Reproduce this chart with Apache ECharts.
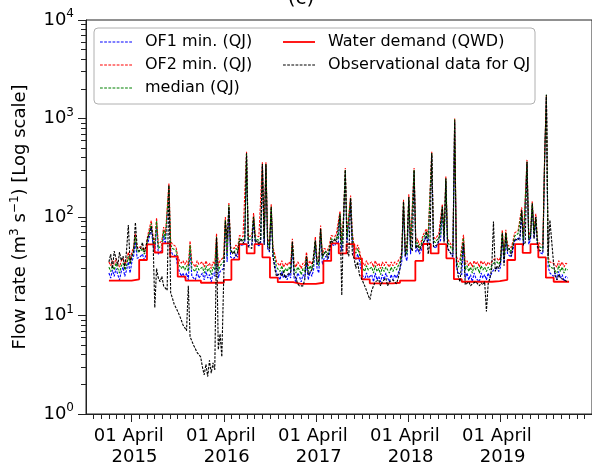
<!DOCTYPE html>
<html><head><meta charset="utf-8">
<script src="https://cdn.jsdelivr.net/npm/echarts@6/dist/echarts.min.js"></script>
<style>html,body{margin:0;padding:0;background:#fff}#c{width:592px;height:471px}</style>
</head><body><div id="c"></div>
<script>
// ---- data (weekly samples starting 2015-01-01) ----
const seriesStart = [2015, 0, 1];
const stepDays = 7;

const of1Min = [
27,24,29,25,30,26,23,28,31,25,29,35,27, 35,40,56,38,37, 40,42,37,41, 53,55,78,52, 44,82,42,44,46, 65,53,55,190, 46,42,44,40,
31,28,25,27,24,27,23,46,25,26,23,28,24,
24,27,23,28,24,26,22,27,25,56,24,28,27, 30,84,35,120,39, 40,38,42,39, 53,55,51,54, 420,51,49,53,92, 53,55,51,54,330,53,330,48, 44,115,39,
33,27,25,23,28,24,26,23,27,24,
50, 24,22,27,25,22,26,24,35,23,28,25,29,52,30,27,68,33, 38,40,36,42, 53,55,51,56, 53,98,45,88,285, 55,53,145,57, 40,37,42,36,
29,25,23,27,24,23,26,22,27,23,25,22,26,23,27,24,22,26,23,26,24,27,
30,35,130,39,36,148,42,44,285, 44,48,42,46, 53,55,64,53,55, 420,51,48,50, 55,58,118,57, 232,48,45,44,39, 930,
31,27,28, 26,55,24,27,23,26,22,27,24,25,22,27,24,26,23,27,24,
27,29,28,30,28, 31,62,34,62, 42,44,39,46, 57,59,61,58,108, 51,49,345,53, 59,130,61,92, 47,44,46,42,375, 1650,
31,27,26,25,27,23,28,24,26,22,25,24
];
const of2Min = [
35,32,36,33,38,34,31,36,38,33,36,44,37, 44,49,68,48,46, 50,52,46,50, 65,67,92,64, 55,98,53,55,57, 79,65,67,220, 57,53,55,50,
40,36,34,36,33,36,32,57,35,35,31,36,33,
33,35,31,36,32,34,30,35,33,68,32,36,35, 39,100,44,140,49, 50,48,52,49, 65,67,63,66, 460,63,61,65,110, 65,67,63,66,360,65,360,60, 55,135,49,
42,35,35,32,36,31,34,32,35,33,
60, 34,31,35,33,30,34,32,44,32,36,33,37,63,38,36,82,42, 48,50,46,52, 65,67,63,68, 65,115,57,104,315, 67,65,165,69, 50,47,52,46,
37,34,32,36,33,33,35,31,36,32,34,30,35,32,35,33,31,35,32,35,33,36,
38,44,150,49,46,170,52,54,315, 55,60,52,56, 65,67,76,65,67, 460,63,60,62, 67,70,135,69, 260,60,56,54,49, 1000,
40,35,37, 36,66,33,36,32,35,31,36,33,35,31,36,33,35,32,35,33,
35,37,36,38,36, 39,74,44,74, 52,54,49,56, 69,71,73,70,125, 63,61,380,65, 71,145,73,108, 58,54,56,52,410, 1700,
39,35,34,34,35,31,36,32,35,31,34,33
];
const medianQJ = [
31,28,32,29,34,30,27,32,34,29,32,40,33, 40,45,63,44,42, 45,48,42,46, 60,62,86,58, 50,91,48,50,52, 73,60,62,208, 52,48,50,46,
36,32,30,32,29,32,28,52,30,31,28,32,29,
29,31,27,32,28,30,26,31,29,63,28,32,31, 35,93,40,132,45, 46,44,48,45, 60,62,58,61, 443,58,56,60,102, 60,62,58,61,345,60,345,55, 50,127,45,
38,31,30,28,32,27,30,28,31,29,
56, 30,27,31,29,26,30,28,40,28,32,29,33,58,35,32,76,38, 44,46,42,48, 60,62,58,63, 60,108,52,97,300, 62,60,155,64, 46,43,48,42,
34,30,28,32,29,28,31,27,32,28,30,26,31,28,31,29,27,31,28,31,29,32,
35,40,143,45,42,160,48,50,300, 50,55,48,52, 60,62,71,60,62, 443,58,55,57, 62,65,127,64, 246,55,52,50,45, 980,
36,31,33, 32,61,29,32,28,31,27,32,29,31,27,32,29,31,28,31,29,
32,34,33,35,33, 36,69,40,69, 48,50,45,52, 64,66,68,65,117, 58,56,363,60, 66,138,68,100, 54,50,52,48,394, 1740,
36,31,30,30,31,27,32,28,31,27,30,29
];
const observedQJ = [
35,42,30,45,38,32,44,36,40,30,46,83,34, 40,45,88,50,45, 48,55,44,50, 62,65,80,60, 12, 30,24,22,25,20,19,18, 210, 17,15,13,12,11,10,9,8,7.5,7, 20,
6.1,5.5,5,4.6,4.2,4.0,3.8,3.0,2.5,3.2,2.4,3.5,2.6,3.3,2.8, 62, 4.5,6.5,3.8, 21,92,60,127,48, 42,45,40,44, 56,60,54,58, 443,50,52,48,100, 55,58,53,57,345,52,345,50, 45,127,40, 30,25,
24,27,25,28,24,26,25,27, 56,26,24,21,20,19.5,20,23,40,26,27,29,30, 58,33,36,76,40, 40,45,38,46, 58,55,60,56, 55,108,16,97,300, 45,40,155,42, 38,30,35,26,
24,22,20,18,16,14.5,18,20, 22,21,23,20,22,21,24,20,22,21,23,22,21,24, 30,45,143,40,55,160,50,45,300, 48,52,45,50, 55,58,71,42,56, 443,50,48,52, 58,60,127,55, 246,48,45,44,40, 960,34,25,22,
21,55,20.5,21,22,20,21,20.5,22,21,20,21.5,20.5,22, 11,21,24,30,90,28,32,30, 35,69,32,69, 45,48,40,50, 60,62,58,64,117, 52,55,363,58, 62,138,60,100, 50,46,48,45,394,
1740,40,93,90,35, 25,23,26,24,25,23,24,22
];
// monthly water demand, Jan 2015 .. Dec 2019
const waterDemand = [
22.6,22.6,22.6,23.3,36.6,52.8,43.6,54,39.6,24.8,22.6,22.6,
21.5,21.5,21.5,23,36.9,53,42.7,53,39,24.2,21.8,21.8,
20.9,20.9,20.9,21.5,35.8,54,42.7,53,38.1,23.3,21.2,21.2,
21.2,21.5,22.6,22.6,35.8,53.2,42.7,53,38.1,23.4,22,22,
22,22,22.3,23,36.6,53,43.2,53,39,24.2,22,22
];
const tickYears = [2015, 2016, 2017, 2018, 2019];
const legendLeft = ['OF1 min. (QJ)', 'OF2 min. (QJ)', 'median (QJ)'];
const legendRight = ['Water demand (QWD)', 'Observational data for QJ'];

// ---- build ----
const DAY = 86400000;
const t0 = Date.UTC(seriesStart[0], seriesStart[1], seriesStart[2]);
const weekly = arr => arr.map((v, i) => [t0 + i * stepDays * DAY, v]);
const demandData = waterDemand.map((v, m) => [Date.UTC(2015, m, 1), v]);
demandData.push([Date.UTC(2015, waterDemand.length, 1), waterDemand[waterDemand.length - 1]]);

const xMin = Date.UTC(2014, 9, 2), xMax = Date.UTC(2020, 3, 1);
const majorX = tickYears.map(y => Date.UTC(y, 3, 1));
const minorX = [];
for (let y = 2014; y <= 2020; y++) for (let m = 0; m < 12; m++) {
  const t = Date.UTC(y, m, 1);
  if (m !== 3 && t >= xMin && t <= xMax) minorX.push(t);
}
const minorY = [];
for (let k = 0; k < 4; k++) for (let m = 2; m <= 9; m++) minorY.push(k + Math.log10(m));

const FONT = 'DejaVu Sans';
const dashIcon = (() => { let p = 'path://'; for (let x = 0; x < 32; x += 4.2) p += 'M' + x + ',0h2.8v1.1h-2.8z'; return p; })();
const solidIcon = 'path://M0,0h32v1.8h-32z';

const chart = echarts.init(document.getElementById('c'), null, {renderer: 'canvas'});
const dashed = c => ({color: c, width: 1.1, type: [2.6, 1.3]});
chart.setOption({
  animation: false,
  backgroundColor: '#fff',
  grid: {left: 86, top: 20, width: 507, height: 394, show: true, borderColor: '#222', borderWidth: 1},
  xAxis: [{
    type: 'value', min: xMin, max: xMax,
    axisLine: {show: true, lineStyle: {color: '#222', width: 1}},
    axisTick: {show: true, customValues: majorX, length: 8, lineStyle: {color: '#222', width: 1}},
    axisLabel: {customValues: majorX, formatter: v => '01 April \n ' + new Date(v).getUTCFullYear(),
      fontFamily: FONT, fontSize: 18, lineHeight: 21, margin: 12, color: '#000'},
    splitLine: {show: false}
  }, {
    type: 'value', min: xMin, max: xMax, position: 'bottom',
    axisLine: {show: false},
    axisTick: {show: true, customValues: minorX, length: 5, lineStyle: {color: '#222', width: 1}},
    axisLabel: {show: false}, splitLine: {show: false}
  }],
  yAxis: [{
    type: 'log', logBase: 10, min: 1, max: 10000,
    axisLine: {show: true, lineStyle: {color: '#222', width: 1}},
    axisTick: {show: true, length: 8, lineStyle: {color: '#222', width: 1}},
    axisLabel: {
      formatter: v => '{b|10}{s|' + Math.round(Math.log10(v)) + '}',
      margin: 12, color: '#000',
      rich: {b: {fontFamily: FONT, fontSize: 18, lineHeight: 24, color: '#000'},
             s: {fontFamily: FONT, fontSize: 12, lineHeight: 12, verticalAlign: 'top', color: '#000'}}
    },
    splitLine: {show: false},
    name: 'Flow rate (m{s|3} s{s|−1}) [Log scale]', nameLocation: 'middle', nameGap: 50, nameRotate: 90,
    nameTextStyle: {fontFamily: FONT, fontSize: 18, lineHeight: 24, color: '#000',
      rich: {s: {fontFamily: FONT, fontSize: 12, lineHeight: 12, verticalAlign: 'top', color: '#000'}}}
  }, {
    type: 'value', min: 0, max: 4, position: 'left',
    axisLine: {show: false},
    axisTick: {show: true, customValues: minorY, length: 5, lineStyle: {color: '#222', width: 1}},
    axisLabel: {show: false}, splitLine: {show: false}
  }],
  legend: [{
    data: legendLeft.map(n => ({name: n, icon: dashIcon})),
    orient: 'vertical', left: 100, top: 34, padding: 0, itemGap: 7, itemWidth: 32, itemHeight: 16,
    textStyle: {fontFamily: FONT, fontSize: 16, lineHeight: 16, color: '#000', padding: [0, 0, 0, 8]},
    selectedMode: false, z: 6
  }, {
    data: [{name: legendRight[0], icon: solidIcon}, {name: legendRight[1], icon: dashIcon}],
    orient: 'vertical', left: 283, top: 34, padding: 0, itemGap: 7, itemWidth: 32, itemHeight: 16,
    textStyle: {fontFamily: FONT, fontSize: 16, lineHeight: 16, color: '#000', padding: [0, 0, 0, 8]},
    selectedMode: false, z: 6
  }],
  graphic: [
    {type: 'rect', z: 5, shape: {x: 94, y: 28, width: 441, height: 76, r: 4},
     style: {fill: 'rgba(255,255,255,0.8)', stroke: '#b0b0b0', lineWidth: 1}},
    {type: 'text', z: 5, x: 301, y: -1, style: {text: '(c)', font: '20px "DejaVu Sans"', fill: '#000', align: 'center', verticalAlign: 'middle'}}
  ],
  series: [
    {name: legendLeft[0], type: 'line', data: weekly(of1Min), showSymbol: false, symbol: 'none', color: '#0000ff', lineStyle: dashed('#0000ff'), z: 2},
    {name: legendLeft[1], type: 'line', data: weekly(of2Min), showSymbol: false, symbol: 'none', color: '#ff0000', lineStyle: dashed('#ff0000'), z: 2},
    {name: legendLeft[2], type: 'line', data: weekly(medianQJ), showSymbol: false, symbol: 'none', color: '#008000', lineStyle: dashed('#008000'), z: 2},
    {name: legendRight[0], type: 'line', step: 'end', data: demandData, showSymbol: false, symbol: 'none', color: '#ff0000', lineStyle: {color: '#ff0000', width: 1.8}, z: 3},
    {name: legendRight[1], type: 'line', data: weekly(observedQJ), showSymbol: false, symbol: 'none', color: '#000', lineStyle: dashed('#000'), z: 4}
  ]
});
</script></body></html>
